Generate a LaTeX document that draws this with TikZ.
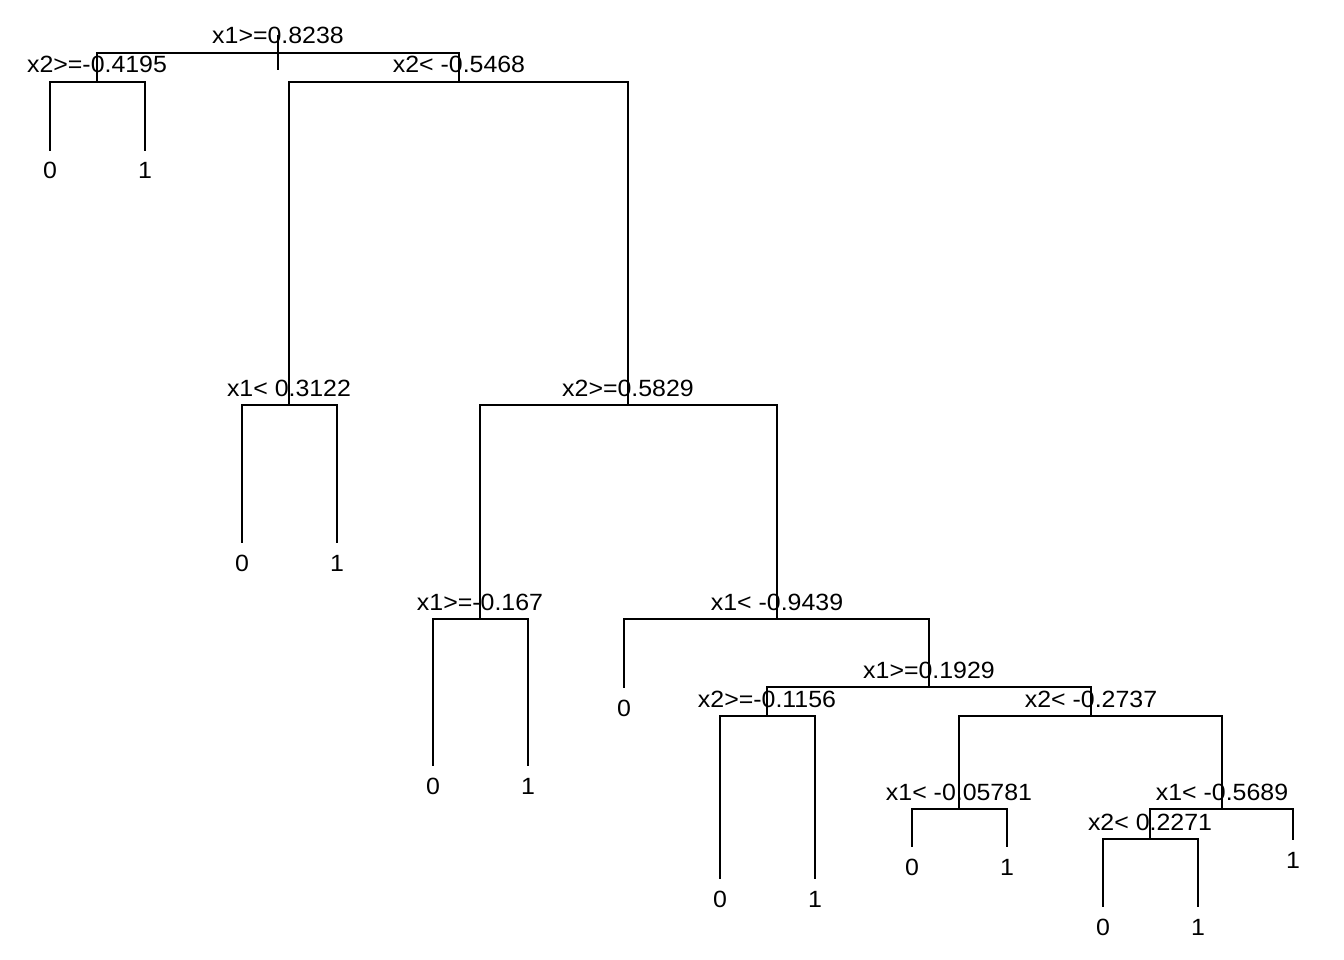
\documentclass[tikz,border=0pt]{standalone}
\usepackage{fontspec}
\setmainfont{Liberation Sans}
\newcommand{\rlab}[1]{\scalebox{1.06}[1]{#1}}
\begin{document}
\begin{tikzpicture}[x=1pt,y=-1pt,
  branch/.style={line width=1.9pt,line cap=rect},
  splitlab/.style={anchor=base,inner sep=0pt,font=\fontsize{23.5}{27}\selectfont},
  leaflab/.style={anchor=base,inner sep=0pt,font=\fontsize{23.5}{27}\selectfont}]
\useasboundingbox[fill=white] (0,0) rectangle (1344,960);
% split points
\coordinate (R) at (278,53);
\coordinate (Rt) at (278,36);
\coordinate (Rb) at (278,69);
\coordinate (A) at (97,82);
\coordinate (B) at (459,82);
\coordinate (C) at (289,405);
\coordinate (D) at (628,405);
\coordinate (E) at (480,619);
\coordinate (F) at (777,619);
\coordinate (G) at (929,687);
\coordinate (H) at (767,716);
\coordinate (I) at (1091,716);
\coordinate (J) at (959,809);
\coordinate (K) at (1222,809);
\coordinate (L) at (1150,839);
% leaf ends
\coordinate (A0) at (50,150);
\coordinate (A1) at (145,150);
\coordinate (C0) at (242,542);
\coordinate (C1) at (337,542);
\coordinate (E0) at (433,765);
\coordinate (E1) at (528,765);
\coordinate (F0) at (624,687);
\coordinate (H0) at (720,878);
\coordinate (H1) at (815,878);
\coordinate (J0) at (912,846);
\coordinate (J1) at (1007,846);
\coordinate (K1) at (1293,839);
\coordinate (L0) at (1103,906);
\coordinate (L1) at (1198,906);
% branches
\draw[branch] (Rt) -- (Rb);
\draw[branch] (R) -| (A);
\draw[branch] (R) -| (B);
\draw[branch] (A) -| (A0);
\draw[branch] (A) -| (A1);
\draw[branch] (B) -| (C);
\draw[branch] (B) -| (D);
\draw[branch] (C) -| (C0);
\draw[branch] (C) -| (C1);
\draw[branch] (D) -| (E);
\draw[branch] (D) -| (F);
\draw[branch] (E) -| (E0);
\draw[branch] (E) -| (E1);
\draw[branch] (F) -| (F0);
\draw[branch] (F) -| (G);
\draw[branch] (G) -| (H);
\draw[branch] (G) -| (I);
\draw[branch] (H) -| (H0);
\draw[branch] (H) -| (H1);
\draw[branch] (I) -| (J);
\draw[branch] (I) -| (K);
\draw[branch] (J) -| (J0);
\draw[branch] (J) -| (J1);
\draw[branch] (K) -| (L);
\draw[branch] (K) -| (K1);
\draw[branch] (L) -| (L0);
\draw[branch] (L) -| (L1);
% split labels
\node[splitlab] (lR) at ([yshift=9pt]R) {\rlab{x1>=0.8238}};
\node[splitlab] (lA) at ([yshift=9pt]A) {\rlab{x2>=-0.4195}};
\node[splitlab] (lB) at ([yshift=9pt]B) {\rlab{x2< -0.5468}};
\node[splitlab] (lC) at ([yshift=9pt]C) {\rlab{x1< 0.3122}};
\node[splitlab] (lD) at ([yshift=9pt]D) {\rlab{x2>=0.5829}};
\node[splitlab] (lE) at ([yshift=9pt]E) {\rlab{x1>=-0.167}};
\node[splitlab] (lF) at ([yshift=9pt]F) {\rlab{x1< -0.9439}};
\node[splitlab] (lG) at ([yshift=9pt]G) {\rlab{x1>=0.1929}};
\node[splitlab] (lH) at ([yshift=9pt]H) {\rlab{x2>=-0.1156}};
\node[splitlab] (lI) at ([yshift=9pt]I) {\rlab{x2< -0.2737}};
\node[splitlab] (lJ) at ([yshift=9pt]J) {\rlab{x1< -0.05781}};
\node[splitlab] (lK) at ([yshift=9pt]K) {\rlab{x1< -0.5689}};
\node[splitlab] (lL) at ([yshift=9pt]L) {\rlab{x2< 0.2271}};
% leaf labels
\node[leaflab] (tA0) at ([yshift=-29pt]A0) {\rlab{0}};
\node[leaflab] (tA1) at ([yshift=-29pt]A1) {\rlab{1}};
\node[leaflab] (tC0) at ([yshift=-29pt]C0) {\rlab{0}};
\node[leaflab] (tC1) at ([yshift=-29pt]C1) {\rlab{1}};
\node[leaflab] (tE0) at ([yshift=-29pt]E0) {\rlab{0}};
\node[leaflab] (tE1) at ([yshift=-29pt]E1) {\rlab{1}};
\node[leaflab] (tF0) at ([yshift=-29pt]F0) {\rlab{0}};
\node[leaflab] (tH0) at ([yshift=-29pt]H0) {\rlab{0}};
\node[leaflab] (tH1) at ([yshift=-29pt]H1) {\rlab{1}};
\node[leaflab] (tJ0) at ([yshift=-29pt]J0) {\rlab{0}};
\node[leaflab] (tJ1) at ([yshift=-29pt]J1) {\rlab{1}};
\node[leaflab] (tK1) at ([yshift=-29pt]K1) {\rlab{1}};
\node[leaflab] (tL0) at ([yshift=-29pt]L0) {\rlab{0}};
\node[leaflab] (tL1) at ([yshift=-29pt]L1) {\rlab{1}};
\end{tikzpicture}
\end{document}
